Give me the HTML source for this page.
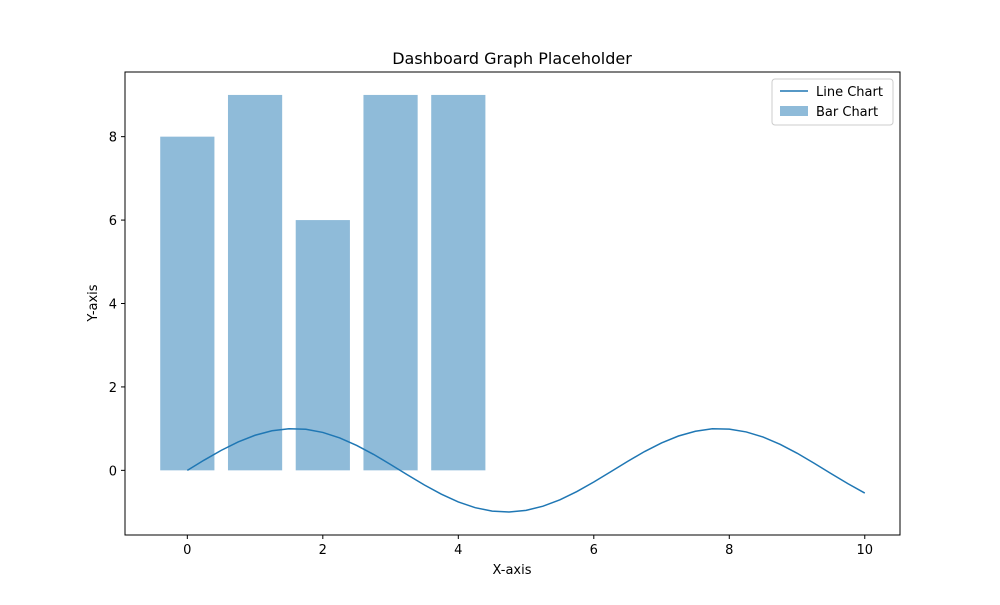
<!DOCTYPE html>
<html><head><meta charset="utf-8"><style>
html,body{margin:0;padding:0;background:#fff}
svg text{font-family:"DejaVu Sans","Liberation Sans",sans-serif;fill:#000}
</style></head><body>
<svg id="chart" width="1000" height="600" xmlns="http://www.w3.org/2000/svg">
<rect width="1000" height="600" fill="#fff"/>
<g id="bars"></g>
<g id="line"></g>
<rect x="125" y="72" width="775" height="463" fill="none" stroke="#000" stroke-width="1"/>
<g id="xticks"></g>
<g id="yticks"></g>
<text x="512" y="64" font-size="16" text-anchor="middle">Dashboard Graph Placeholder</text>
<text x="512" y="574" font-size="13" text-anchor="middle">X-axis</text>
<text x="97" y="303" font-size="13" text-anchor="middle" transform="rotate(-90 97 303)">Y-axis</text>
<g>
<rect x="772" y="79" width="121" height="46" rx="3" fill="#fff" fill-opacity="0.8" stroke="#ccc"/>
<g>
<line x1="780" y1="91" x2="808" y2="91" stroke="#1f77b4" stroke-width="1.5"/>
<text x="816" y="96" font-size="13">Line Chart</text></g>
<g>
<rect x="780" y="106" width="28" height="10" fill="#1f77b4" fill-opacity="0.5"/>
<text x="816" y="116" font-size="13">Bar Chart</text></g>
</g>
</svg>
<script>
const barCategories=[0,1,2,3,4];
const barValues=[8,9,6,9,9];
const lineX=[0,0.25,0.5,0.75,1,1.25,1.5,1.75,2,2.25,2.5,2.75,3,3.25,3.5,3.75,4,4.25,4.5,4.75,5,5.25,5.5,5.75,6,6.25,6.5,6.75,7,7.25,7.5,7.75,8,8.25,8.5,8.75,9,9.25,9.5,9.75,10];
const lineY=[0,0.247,0.479,0.682,0.841,0.949,0.997,0.984,0.909,0.778,0.598,0.382,0.141,-0.108,-0.351,-0.572,-0.757,-0.895,-0.978,-0.999,-0.959,-0.859,-0.706,-0.508,-0.279,-0.033,0.215,0.451,0.657,0.823,0.938,0.996,0.989,0.921,0.798,0.625,0.412,0.174,-0.075,-0.319,-0.544];
const xTickLabels=[0,2,4,6,8,10];
const yTickLabels=[0,2,4,6,8];
const NS="http://www.w3.org/2000/svg";
const L=125,R=900,T=72,B=535,xMin=-0.92,xMax=10.52,yMin=-1.55,yMax=9.55;
const sx=v=>L+(v-xMin)/(xMax-xMin)*(R-L);
const sy=v=>B-(v-yMin)/(yMax-yMin)*(B-T);
function mk(tag,attrs,parent){const e=document.createElementNS(NS,tag);for(const k in attrs)e.setAttribute(k,attrs[k]);parent.appendChild(e);return e;}
const gb=document.getElementById('bars');
barCategories.forEach((c,i)=>{
 const x0=sx(c-0.4),x1=sx(c+0.4),y0=sy(0),y1=sy(barValues[i]);
 const r=mk('rect',{x:x0,y:y1,width:x1-x0,height:y0-y1,fill:'#1f77b4','fill-opacity':0.5},gb);
 
 
});
const gl=document.getElementById('line');
const p=mk('polyline',{points:lineX.map((x,i)=>sx(x)+','+sy(lineY[i])).join(' '),fill:'none',stroke:'#1f77b4','stroke-width':1.5},gl);


const gx=document.getElementById('xticks');
xTickLabels.forEach(v=>{
 const g=mk('g',{},gx);
 
 
 mk('line',{x1:sx(v),x2:sx(v),y1:B,y2:B+4,stroke:'#000'},g);
 const t=mk('text',{x:sx(v),y:B+19,'font-size':13,'text-anchor':'middle'},g);t.textContent=v;
});
const gy=document.getElementById('yticks');
yTickLabels.forEach(v=>{
 const g=mk('g',{},gy);
 
 
 mk('line',{x1:L-4,x2:L,y1:sy(v),y2:sy(v),stroke:'#000'},g);
 const t=mk('text',{x:L-8,y:sy(v)+5,'font-size':13,'text-anchor':'end'},g);t.textContent=v;
});
</script>
</body></html>
